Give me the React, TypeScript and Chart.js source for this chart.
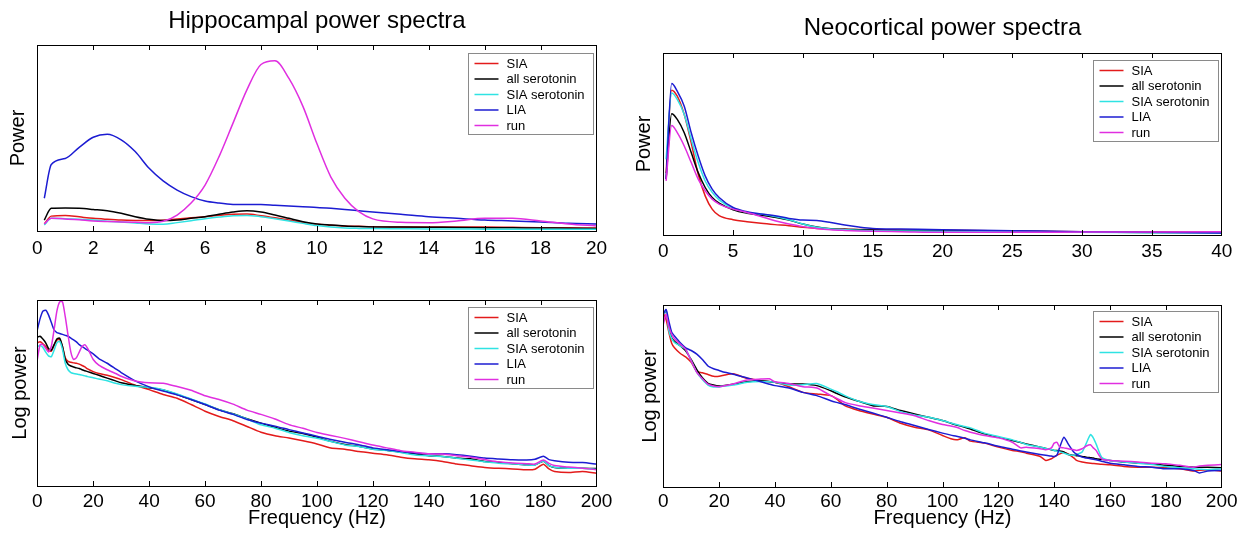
import React, { useEffect, useRef } from "react";
import { Chart, registerables } from "chart.js";

Chart.register(...registerables);

const FONT = "'Liberation Sans', Arial, Helvetica, sans-serif";
Chart.defaults.font.family = FONT;

const SERIES_LABELS = ["SIA", "all serotonin", "SIA serotonin", "LIA", "run"];
const SERIES_COLORS = ["#e31b1b", "#000000", "#2fe3e3", "#1c1cd2", "#e02fe0"];

// ---------- Hippocampal power spectra (linear, 0-20 Hz) ----------
const hipFreq = [0.25, 0.5, 1, 1.5, 2, 2.5, 3, 3.5, 4, 4.5, 5, 5.5, 6, 6.5, 7, 7.5, 8, 8.5, 9, 9.5, 10, 10.5, 11, 11.5, 12, 13, 14, 15, 16, 17, 18, 19, 20];
const hipSIA = [3.8, 8, 8.4, 7.6, 6.8, 6.3, 5.9, 5.7, 5.6, 5.8, 6.5, 7.1, 7.7, 8.4, 9, 9.1, 8.2, 7.1, 5.9, 4.6, 3.6, 3.1, 2.7, 2.5, 2.3, 2.2, 2.2, 2.2, 2.2, 2, 1.8, 1.7, 1.6];
const hipAllSer = [5.9, 12.2, 12.4, 12.2, 11.6, 10.9, 9.5, 7.7, 6.3, 5.6, 5.9, 6.8, 7.7, 9, 10.2, 10.9, 10.2, 8.6, 6.8, 5, 3.8, 3.2, 2.7, 2.4, 2.2, 2.1, 2, 1.9, 1.8, 1.7, 1.6, 1.5, 1.4];
const hipSIASer = [3.2, 6.8, 6.6, 6.3, 5.9, 5.3, 4.8, 4.3, 3.8, 3.6, 4.5, 5.5, 6.6, 7.5, 8.2, 8.4, 7.7, 6.6, 5.4, 4.1, 2.9, 2.1, 1.6, 1.4, 1.3, 1.2, 1.1, 1.1, 1, 1, 0.9, 0.9, 0.9];
const hipLIA = [17.6, 35.8, 39, 45, 50.4, 52, 49, 42.7, 33.7, 26.9, 22, 18.5, 16.1, 15, 14.3, 14.2, 14.2, 13.8, 13.4, 13, 12.7, 12.2, 11.6, 10.9, 10.2, 9, 7.7, 6.8, 5.9, 5.4, 4.8, 4.1, 3.8];
const hipRun = [3.8, 6.8, 6.5, 6, 5.4, 5.1, 4.9, 4.7, 4.5, 5.2, 8.6, 15, 24.7, 40, 58, 76, 89.5, 91.5, 82, 67, 47, 29, 17.6, 10.4, 6.5, 4.7, 4.5, 5.4, 6.8, 6.8, 5.4, 3.8, 2.7];

// ---------- Neocortical power spectra (linear, 0-40 Hz) ----------
const neoFreq = [0.2, 0.6, 1, 1.5, 2, 2.5, 3, 3.5, 4, 5, 6, 7, 8, 9, 10, 11, 12, 13, 14, 15, 17, 20, 25, 30, 35, 40];
const neoSIA = [34, 79.6, 76.3, 66.2, 50.7, 33.4, 21.5, 14.2, 10.6, 8.4, 7.3, 6.4, 5.7, 5.1, 4.2, 3.6, 3.3, 3.1, 3, 2.9, 2.8, 2.6, 2.2, 1.8, 1.6, 1.5];
const neoAllSer = [30.7, 66.6, 63.5, 56.2, 45.3, 34.3, 26.1, 20.6, 17.5, 13.9, 12, 10.9, 9.7, 8.2, 6, 4.4, 3.5, 3.1, 2.9, 2.7, 2.5, 2.4, 2, 1.6, 1.4, 1.3];
const neoSIASer = [41.6, 78, 74.5, 66.2, 52.6, 39.8, 29.7, 23.4, 19.3, 14.6, 12.4, 11.5, 10.2, 8.4, 6, 4.2, 3.3, 2.9, 2.6, 2.4, 2.2, 2, 1.8, 1.5, 1.3, 1.1];
const neoLIA = [30.7, 83.2, 79, 70.8, 56.2, 43.4, 32.5, 25.2, 20.6, 15.1, 12.8, 11.5, 10.6, 9.1, 8.2, 8, 6.9, 5.5, 4.4, 3.6, 3.3, 2.9, 2.4, 1.8, 1.5, 1.1];
const neoRun = [29.7, 60.2, 56.2, 48.9, 39.8, 30.7, 24.3, 19.7, 17, 14.2, 12.4, 10.2, 7.8, 6, 4.6, 3.6, 2.9, 2.5, 2.2, 2, 1.8, 1.5, 1.5, 1.6, 1.7, 1.8];

// ---------- Hippocampal log power (0-200 Hz) ----------
const hipLogFreq = [0, 1, 2, 3, 4, 5, 6, 7, 8, 9, 10, 11, 12, 13, 14, 15, 16, 17, 18, 20, 22, 25, 28, 30, 35, 40, 45, 50, 55, 60, 65, 70, 75, 80, 85, 90, 95, 100, 105, 110, 115, 120, 125, 130, 135, 140, 145, 150, 155, 160, 165, 170, 175, 178, 181, 183, 185, 190, 195, 200];
const hipLogSIA = [77, 77.5, 76.5, 75, 73, 72.5, 75.5, 78.5, 78.8, 75, 69, 67, 66.5, 66.2, 66, 65.5, 64.8, 64, 63, 61.5, 60.5, 59.5, 58.2, 57.2, 54.2, 51.8, 49.2, 47.2, 43.8, 40.2, 37.4, 35.1, 32, 28.9, 27, 25.8, 24.3, 22.6, 20.4, 19.8, 18.5, 17.6, 16.8, 15.5, 14.6, 14.1, 13.2, 11.8, 10.9, 10, 9.5, 9.2, 8.7, 9, 11.7, 9.2, 7.8, 7.2, 7.8, 6.8];
const hipLogAllSer = [80, 80.5, 79, 77, 74, 73, 76, 79, 79.5, 75, 68, 65.5, 64.5, 64, 63.5, 63.2, 62.5, 62, 61.5, 60.5, 59.5, 58, 56.5, 55.5, 54, 52.8, 51.6, 49.2, 46.5, 43.8, 41, 38.8, 36.2, 33.8, 31.6, 29.5, 28.2, 26.2, 24, 22.3, 21.3, 19.9, 19.2, 18.1, 17.3, 16.3, 15.9, 15, 14.6, 13.2, 12.7, 12, 11.4, 11.4, 13.3, 11, 10, 9.6, 9.5, 9.4];
const hipLogSIASer = [75, 75.5, 74.5, 72, 70, 69.5, 73, 77, 77.8, 73.5, 66, 62.5, 61, 60.5, 60.2, 60, 59.6, 59.2, 58.8, 58.2, 57.5, 56.6, 55.2, 54.5, 53.6, 53.1, 51.8, 49.5, 46.8, 44.1, 41, 38.7, 36, 32.9, 31.1, 28.8, 27, 25.7, 23.9, 22.1, 21.2, 19.8, 19.1, 18, 16.7, 16.2, 15.8, 14.9, 14, 13.1, 12.2, 11.9, 11.3, 11.3, 13.5, 11, 10.1, 9.5, 9.5, 9];
const hipLogLIA = [84, 90, 94, 94.5, 92, 88, 84, 82.5, 82, 81.5, 81, 80.5, 79.5, 78.5, 77.5, 76, 75, 74, 73, 71, 68.5, 66, 63, 61, 56.5, 53.3, 51, 49, 46.5, 43.8, 40.8, 38.5, 35.8, 33.8, 32.2, 30.3, 28.5, 26.8, 25, 23.5, 22.2, 20.5, 19.5, 18.6, 17.8, 17.4, 17.3, 16.8, 16, 15, 14.5, 14.1, 14, 14.4, 16, 14.2, 13.6, 12.8, 12.6, 11.8];
const hipLogRun = [68, 76, 76, 74, 72, 75, 84, 94, 99, 99, 91, 81, 72, 68, 69, 72, 75, 76, 74, 68, 65, 62.5, 60.5, 59, 56.5, 55.5, 55.3, 53.5, 51.5, 48.5, 46.5, 44, 40.8, 38.5, 36, 33, 31, 28.8, 27.2, 25.6, 23.8, 22, 20.5, 19, 18.2, 17.3, 17.2, 16.3, 15.4, 14.2, 13, 12.3, 12, 11.8, 14, 12.2, 11, 10.2, 9.6, 8.8];

// ---------- Neocortical log power (0-200 Hz) ----------
const neoLogFreq = [0, 1, 2, 3, 4, 6, 8, 10, 12, 14, 16, 18, 20, 22, 25, 30, 35, 38, 40, 45, 50, 55, 60, 62, 65, 70, 75, 80, 85, 90, 95, 100, 103, 105, 108, 110, 115, 120, 125, 128, 130, 135, 137, 139, 140, 141, 142, 143.5, 145, 147, 148, 150, 151.5, 153, 154, 155, 157, 160, 165, 170, 175, 180, 185, 190, 192, 195, 200];
const neoLogSIA = [95.6, 92, 85, 79, 76.5, 73.5, 71.5, 68.5, 63.5, 62.8, 61.8, 60.8, 60.8, 61.5, 62.2, 59.7, 58.4, 57.8, 57.5, 55.1, 52, 51.1, 50.2, 48.4, 44.7, 42, 40.1, 38.3, 35, 32.8, 31.4, 28.3, 26.5, 25.9, 27, 25.2, 24.1, 21.9, 20.1, 19.4, 18.6, 16.8, 14.6, 15.5, 16.5, 17.5, 18.2, 19, 18.2, 16, 14.6, 13.7, 13.3, 13, 12.9, 12.8, 12.5, 12.2, 11.3, 10.9, 10.9, 10.6, 10, 8.8, 9.2, 9.5, 8.8];
const neoLogAllSer = [95.8, 96.5, 87, 82, 80, 77.6, 74.8, 70, 64.5, 60, 57, 56, 55.5, 55.8, 56.5, 57.8, 58.4, 58, 57.5, 56.6, 56.6, 55.7, 52.9, 51.5, 49.6, 47.1, 44.7, 44.2, 42, 40.1, 38.3, 36.5, 35, 34.1, 32.8, 31.9, 29.2, 27.4, 25.5, 24.4, 23.7, 21.9, 21.2, 20.5, 20.1, 20, 19.8, 19.2, 17.9, 17.4, 17.2, 16.8, 16.4, 16.1, 15.9, 15.5, 15.2, 14.6, 13.7, 13.1, 12.8, 11.9, 11.3, 10.9, 10.9, 10.9, 10.6];
const neoLogSIASer = [94.9, 97, 86, 81.5, 79.4, 77.6, 75.7, 69.3, 63, 59, 56, 55, 55, 55.5, 56, 57.5, 58, 57.8, 57.5, 56, 56.2, 56.9, 53.8, 52.5, 50.2, 47.1, 45.3, 44.2, 41.4, 39.6, 38.3, 36.5, 35.2, 34.3, 33.2, 32.5, 29.6, 27.7, 25.9, 24.5, 23.4, 21.9, 21.2, 20.6, 20.1, 19.7, 19.3, 18.6, 17.9, 17.4, 17.8, 19.2, 24, 28.8, 27, 23.7, 16.4, 14.6, 13.7, 13.1, 12.4, 11.3, 10.6, 10, 9.8, 9.5, 10];
const neoLogLIA = [95, 97.5, 91, 85, 83, 79.4, 76.5, 75, 73, 70, 66.5, 65, 64, 63, 62, 59.9, 57.8, 56.5, 55.7, 54.4, 52, 50.2, 47.4, 46.5, 45.3, 42.9, 40.7, 38.3, 35.9, 33.8, 31.6, 29.6, 28.5, 27.9, 26.8, 25.9, 24.3, 22.4, 20.8, 19.8, 19.2, 17.9, 17.4, 17, 16.8, 17.5, 21.9, 27.4, 23.7, 19.2, 18, 16.4, 15.9, 15.5, 15.3, 15, 14.2, 13.1, 12.2, 11.3, 10.9, 10, 10, 9.1, 7.7, 8.8, 9.1];
const neoLogRun = [89.4, 94.9, 88, 83.9, 81.5, 78.5, 75.7, 69.3, 63, 59.5, 56.5, 55.5, 55.1, 55.6, 56.6, 58.8, 59.3, 59.5, 57.8, 56.9, 55.1, 54.4, 50.2, 48.8, 46.5, 44.7, 43.4, 42, 40.7, 39.2, 36.5, 34.3, 33.5, 32.8, 31, 30.1, 28.3, 27, 24.6, 21.5, 21.9, 21, 20.5, 21.5, 24.1, 24.5, 21.9, 21.5, 21, 20.5, 20.1, 21, 22.5, 23.2, 21.5, 20.1, 15.5, 14.6, 14.2, 13.7, 13.1, 12.8, 11.9, 10.9, 11.5, 11.9, 12.4];

type PanelSpec = {
  key: string;
  left: number;
  top: number;
  w: number;
  h: number;
  freq: number[];
  series: number[][];
  smooth: boolean;
  xMax: number;
  xStep: number;
  title?: string;
  titlePad?: number;
  topHeight?: number;
  yTitle: string;
  yTitlePad: number;
  yWidth: number;
  xHeight: number;
  tickPad: number;
  xTitle?: string;
  padTop: number;
  padRight: number;
  legendTop: number;
};

const PANELS: PanelSpec[] = [
  {
    key: "hip", left: 0, top: 0, w: 620, h: 268,
    freq: hipFreq, series: [hipSIA, hipAllSer, hipSIASer, hipLIA, hipRun], smooth: true,
    xMax: 20, xStep: 2, title: "Hippocampal power spectra", titlePad: 6.6, topHeight: 45,
    yTitle: "Power", yTitlePad: 6, yWidth: 37.3, xHeight: 37, tickPad: 6.6,
    padTop: 0, padRight: 23.5, legendTop: 8,
  },
  {
    key: "neo", left: 620, top: 0, w: 627, h: 268,
    freq: neoFreq, series: [neoSIA, neoAllSer, neoSIASer, neoLIA, neoRun], smooth: true,
    xMax: 40, xStep: 5, title: "Neocortical power spectra", titlePad: 13.6, topHeight: 53,
    yTitle: "Power", yTitlePad: 12, yWidth: 43.3, xHeight: 33, tickPad: 5.6,
    padTop: 0, padRight: 25.3, legendTop: 7,
  },
  {
    key: "hipLog", left: 0, top: 268, w: 620, h: 269,
    freq: hipLogFreq, series: [hipLogSIA, hipLogAllSer, hipLogSIASer, hipLogLIA, hipLogRun], smooth: false,
    xMax: 200, xStep: 20, yTitle: "Log power", yTitlePad: 8, yWidth: 37.3, xHeight: 51, tickPad: 4.6,
    xTitle: "Frequency (Hz)", padTop: 32, padRight: 23.5, legendTop: 6.7,
  },
  {
    key: "neoLog", left: 620, top: 268, w: 627, h: 269,
    freq: neoLogFreq, series: [neoLogSIA, neoLogAllSer, neoLogSIASer, neoLogLIA, neoLogRun], smooth: false,
    xMax: 200, xStep: 20, yTitle: "Log power", yTitlePad: 18, yWidth: 43.3, xHeight: 50, tickPad: 3.6,
    xTitle: "Frequency (Hz)", padTop: 37, padRight: 25.3, legendTop: 5.7,
  },
];

const matlabFrame = {
  id: "matlabFrame",
  afterDatasetsDraw(chart: any, _args: any, opts: any) {
    const { ctx, chartArea } = chart;
    const { left, right, top, bottom } = chartArea;
    const xs = chart.scales.x;
    ctx.save();
    ctx.strokeStyle = "#000";
    ctx.lineWidth = 1;
    // inward tick marks on bottom and top edges
    ctx.beginPath();
    for (const t of xs.ticks) {
      const px = Math.round(xs.getPixelForValue(t.value)) + 0.5;
      if (px <= left + 1 || px >= right - 1) continue;
      ctx.moveTo(px, bottom);
      ctx.lineTo(px, bottom - 5);
      ctx.moveTo(px, top);
      ctx.lineTo(px, top + 5);
    }
    ctx.stroke();
    // axes box
    ctx.strokeRect(
      Math.round(left) + 0.5,
      Math.round(top) + 0.5,
      Math.round(right - left),
      Math.round(bottom - top)
    );
    // legend box
    const w = 125;
    const h = 81;
    const x0 = Math.round(right - 4 - w) + 0.5;
    const y0 = Math.round(top + (opts.legendTop || 7)) + 0.5;
    ctx.fillStyle = "#fff";
    ctx.fillRect(x0, y0, w, h);
    ctx.strokeStyle = "#8a8a8a";
    ctx.strokeRect(x0, y0, w, h);
    ctx.font = `13px ${FONT}`;
    ctx.textBaseline = "middle";
    ctx.textAlign = "left";
    chart.data.datasets.forEach((ds: any, i: number) => {
      const y = y0 + 10 + i * 15.5;
      ctx.strokeStyle = ds.borderColor;
      ctx.lineWidth = 1.5;
      ctx.beginPath();
      ctx.moveTo(x0 + 6, y);
      ctx.lineTo(x0 + 30, y);
      ctx.stroke();
      ctx.fillStyle = "#000";
      ctx.fillText(ds.label, x0 + 38, y + 0.5);
    });
    ctx.restore();
  },
};

function Panel({ spec }: { spec: PanelSpec }) {
  const ref = useRef<HTMLCanvasElement>(null);
  useEffect(() => {
    const canvas = ref.current;
    if (!canvas) return;
    const scales: any = {
      x: {
        type: "linear",
        position: "bottom",
        min: 0,
        max: spec.xMax,
        ticks: {
          stepSize: spec.xStep,
          autoSkip: false,
          maxRotation: 0,
          padding: spec.tickPad,
          color: "#000",
          font: { family: FONT, size: 19 },
        },
        grid: { display: false, drawTicks: false },
        border: { display: false },
        title: spec.xTitle
          ? {
              display: true,
              text: spec.xTitle,
              color: "#000",
              font: { family: FONT, size: 20 },
              padding: { top: 0, bottom: 7 },
            }
          : { display: false },
        afterFit: (s: any) => {
          s.height = spec.xHeight;
        },
      },
      y: {
        type: "linear",
        position: "left",
        min: 0,
        max: 100,
        ticks: { display: false },
        grid: { display: false, drawTicks: false },
        border: { display: false },
        title: {
          display: true,
          text: spec.yTitle,
          color: "#000",
          font: { family: FONT, size: 20 },
          padding: { top: spec.yTitlePad, bottom: 0 },
        },
        afterFit: (s: any) => {
          s.width = spec.yWidth;
        },
      },
    };
    if (spec.title) {
      scales.top = {
        type: "linear",
        axis: "x",
        position: "top",
        min: 0,
        max: spec.xMax,
        ticks: { display: false },
        grid: { display: false, drawTicks: false },
        border: { display: false },
        title: {
          display: true,
          text: spec.title,
          color: "#000",
          font: { family: FONT, size: 24 },
          padding: { top: spec.titlePad, bottom: 0 },
        },
        afterFit: (s: any) => {
          s.height = spec.topHeight;
        },
      };
    }
    const chart = new Chart(canvas, {
      type: "line",
      data: {
        datasets: spec.series.map((ys, i) => ({
          label: SERIES_LABELS[i],
          data: spec.freq.map((f, j) => ({ x: f, y: ys[j] })),
          borderColor: SERIES_COLORS[i],
          backgroundColor: SERIES_COLORS[i],
          borderWidth: 1.5,
          pointRadius: 0,
          fill: false,
          tension: spec.smooth ? 0.4 : 0.2,
          cubicInterpolationMode: spec.smooth ? "monotone" : "default",
          order: 4 - i,
        })),
      },
      options: {
        responsive: false,
        maintainAspectRatio: false,
        animation: false,
        devicePixelRatio: 1,
        layout: {
          padding: { top: spec.padTop, right: spec.padRight, left: 0, bottom: 0 },
        },
        plugins: {
          legend: { display: false },
          tooltip: { enabled: false },
          title: { display: false },
          matlabFrame: { legendTop: spec.legendTop },
        } as any,
        scales,
      },
      plugins: [matlabFrame as any],
    });
    return () => chart.destroy();
  }, [spec]);
  return (
    <canvas
      ref={ref}
      width={spec.w}
      height={spec.h}
      style={{
        position: "absolute",
        left: spec.left,
        top: spec.top,
        width: spec.w,
        height: spec.h,
      }}
    />
  );
}

export default function App() {
  return (
    <div
      style={{
        position: "absolute",
        left: 0,
        top: 0,
        width: 1247,
        height: 537,
        background: "#fff",
        overflow: "hidden",
      }}
    >
      {PANELS.map((p) => (
        <Panel key={p.key} spec={p} />
      ))}
    </div>
  );
}
